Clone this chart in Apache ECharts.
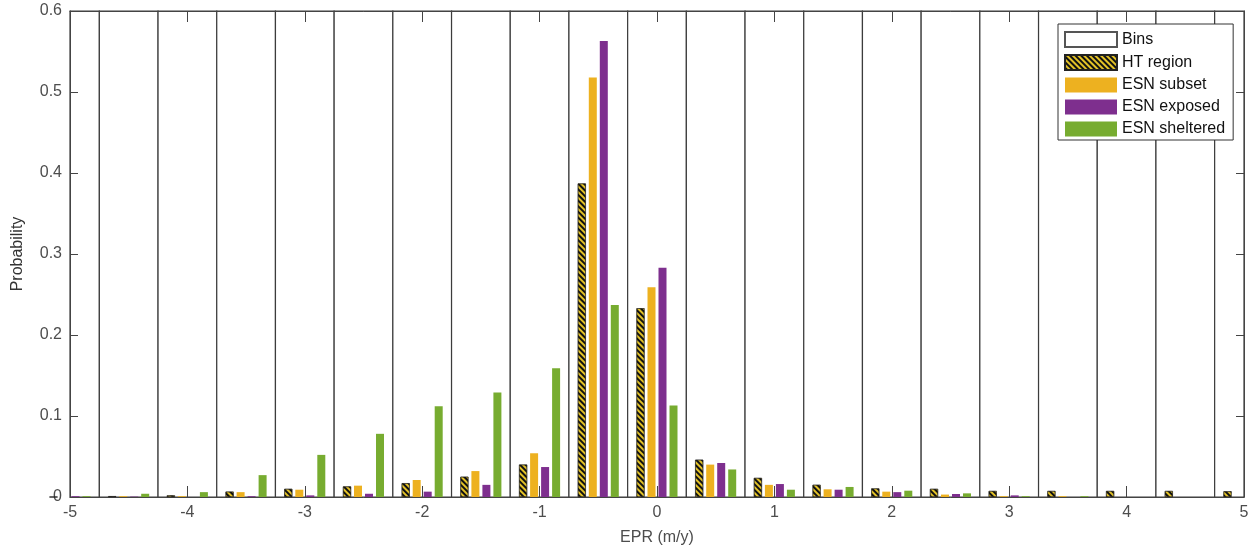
<!DOCTYPE html>
<html>
<head>
<meta charset="utf-8">
<script src="https://cdn.jsdelivr.net/npm/echarts@6/dist/echarts.min.js"></script>
<style>
    html, body { margin: 0; padding: 0; background: #fff; }
    #chart1 { width: 1257px; height: 556px; }
</style>
</head>
<body>
<div id="chart1"></div>
<script>
// bin centres, EPR (m/y)
var binCenters = [-5, -4.5, -4, -3.5, -3, -2.5, -2, -1.5, -1, -0.5, 0, 0.5, 1, 1.5, 2, 2.5, 3, 3.5, 4, 4.5, 5];
var htRegion = [0, 0.001, 0.002, 0.0066, 0.010, 0.013, 0.017, 0.025, 0.040, 0.387, 0.233, 0.046, 0.0235, 0.015, 0.0105, 0.010, 0.0074, 0.0074, 0.0074, 0.0074, 0.007];
var esnSubset = [0, 0.001, 0.001, 0.006, 0.009, 0.014, 0.021, 0.032, 0.054, 0.518, 0.259, 0.040, 0.015, 0.0095, 0.0066, 0.003, 0.001, 0.001, 0, 0, 0];
var esnExposed = [0.001, 0.0005, 0, 0.001, 0.002, 0.004, 0.0066, 0.015, 0.037, 0.563, 0.283, 0.042, 0.016, 0.009, 0.006, 0.0037, 0.002, 0, 0, 0, 0];
var esnSheltered = [0.001, 0.004, 0.006, 0.027, 0.052, 0.078, 0.112, 0.129, 0.159, 0.237, 0.113, 0.034, 0.009, 0.0124, 0.0078, 0.0045, 0.001, 0.001, 0, 0, 0];
var binHeight = 1; // bins run past the top of the axes
var binWidth = 0.5;

function pairs(vals) {
    return binCenters.map(function (x, i) { return [x, vals[i]]; });
}

chart1();

function chart1() {
    var myChart = echarts.init(document.getElementById('chart1'));
    var axisColor = '#444';
    var labelColor = '#4d4d4d';
    var font = 'Arial, "Liberation Sans", sans-serif';

    // outlined bins, clipped to the plot box
    function renderBin(params, api) {
        var c = api.value(0);
        var p0 = api.coord([c - binWidth / 2, api.value(1)]);
        var p1 = api.coord([c + binWidth / 2, 0]);
        var shape = echarts.graphic.clipRectByRect({
            x: p0[0], y: p0[1], width: p1[0] - p0[0], height: p1[1] - p0[1]
        }, {
            x: params.coordSys.x, y: params.coordSys.y,
            width: params.coordSys.width, height: params.coordSys.height
        });
        return shape && {
            type: 'rect',
            shape: shape,
            style: { fill: '#fff', stroke: '#3c3c3c', lineWidth: 1.2 }
        };
    }

    var option = {
        animation: false,
        backgroundColor: '#fff',
        grid: { left: 70, right: 13, top: 11, bottom: 59 },
        legend: {
            orient: 'vertical',
            left: 1058,
            top: 24,
            padding: [7, 8, 3, 6],
            itemWidth: 52,
            itemHeight: 15,
            itemGap: 6,
            backgroundColor: '#fff',
            borderColor: '#333',
            borderWidth: 1,
            borderRadius: 0,
            icon: 'rect',
            textStyle: { color: '#111', fontSize: 16, lineHeight: 15, fontFamily: font },
            data: ['Bins', 'HT region', 'ESN subset', 'ESN exposed', 'ESN sheltered']
        },
        xAxis: [{
            type: 'value',
            min: -5,
            max: 5,
            interval: 1,
            z: 1,
            name: 'EPR (m/y)',
            nameLocation: 'middle',
            nameGap: 33,
            nameTextStyle: { color: labelColor, fontSize: 16, fontFamily: font },
            axisLine: { onZero: false, lineStyle: { color: axisColor } },
            axisTick: { inside: true, length: 11, lineStyle: { color: axisColor } },
            axisLabel: { color: labelColor, fontSize: 16, fontFamily: font, margin: 8 },
            splitLine: { show: false }
        }, {
            type: 'value',
            position: 'top',
            min: -5,
            max: 5,
            interval: 1,
            z: 1,
            axisLine: { show: true, onZero: false, lineStyle: { color: axisColor } },
            axisTick: { inside: true, length: 11, lineStyle: { color: axisColor } },
            axisLabel: { show: false },
            splitLine: { show: false }
        }],
        yAxis: [{
            type: 'value',
            min: 0,
            max: 0.6,
            interval: 0.1,
            z: 1,
            name: 'Probability',
            nameLocation: 'middle',
            nameGap: 44,
            nameTextStyle: { color: '#333', fontSize: 16, fontFamily: font },
            axisLine: { show: true, onZero: false, lineStyle: { color: axisColor } },
            axisTick: { show: true, inside: true, length: 8, lineStyle: { color: axisColor } },
            axisLabel: { color: labelColor, fontSize: 16, fontFamily: font, margin: 8 },
            splitLine: { show: false }
        }, {
            type: 'value',
            position: 'right',
            min: 0,
            max: 0.6,
            interval: 0.1,
            z: 1,
            axisLine: { show: true, onZero: false, lineStyle: { color: axisColor } },
            axisTick: { show: true, inside: true, length: 8, lineStyle: { color: axisColor } },
            axisLabel: { show: false },
            splitLine: { show: false }
        }],
        series: [
            {
                name: 'Bins',
                type: 'custom',
                xAxisIndex: 0,
                yAxisIndex: 0,
                z: 0,
                renderItem: renderBin,
                encode: { x: 0, y: 1 },
                itemStyle: { color: '#fff', borderColor: '#555', borderWidth: 1 },
                data: binCenters.map(function (x) { return [x, binHeight]; })
            },
            {
                name: 'HT region',
                type: 'bar',
                z: 2,
                barWidth: 8,
                barGap: '37.5%',
                itemStyle: {
                    color: '#e3c227',
                    borderColor: '#222',
                    borderWidth: 0.5,
                    decal: {
                        symbol: 'rect',
                        color: '#111',
                        dashArrayX: [1, 0],
                        dashArrayY: [2, 2],
                        rotation: Math.PI / 4
                    }
                },
                data: pairs(htRegion)
            },
            {
                name: 'ESN subset',
                type: 'bar',
                z: 2,
                barWidth: 8,
                barGap: '37.5%',
                itemStyle: { color: '#EDB120' },
                data: pairs(esnSubset)
            },
            {
                name: 'ESN exposed',
                type: 'bar',
                z: 2,
                barWidth: 8,
                barGap: '37.5%',
                itemStyle: { color: '#7E2F8E' },
                data: pairs(esnExposed)
            },
            {
                name: 'ESN sheltered',
                type: 'bar',
                z: 2,
                barWidth: 8,
                barGap: '37.5%',
                itemStyle: { color: '#77AC30' },
                data: pairs(esnSheltered)
            }
        ]
    };
    myChart.setOption(option);
}
</script>
</body>
</html>
